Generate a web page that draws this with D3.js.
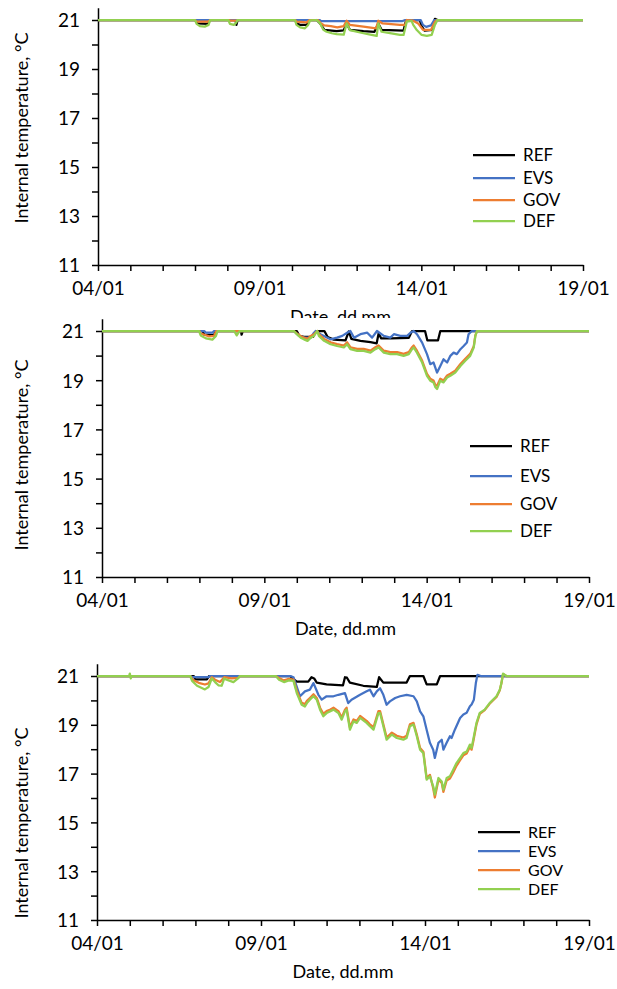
<!DOCTYPE html>
<html>
<head>
<meta charset="utf-8">
<script src="https://cdn.jsdelivr.net/npm/d3@7"></script>
<style>
  body { margin: 0; background: #fff; }
  svg { display: block; }
  text { font-family: Lato, "Open Sans", sans-serif; fill: #000; }
</style>
</head>
<body>
<svg id="chart" width="617" height="989"></svg>
<script>
// axis labels
const dayTicks = [0, 5, 10, 15]
const dayLabels = ["04/01", "09/01", "14/01", "19/01"]
const tempLabels = [11, 13, 15, 17, 19, 21]
const seriesNames = ["REF", "EVS", "GOV", "DEF"]

// series, [days after 04/01, internal temperature °C]
// top chart
const ref1 = [[0,21],[3.0,21],[3.08,20.86],[3.4,20.84],[3.47,21],[4.25,21],[4.28,20.8],[4.32,21],
  [6.1,21],[6.14,20.86],[6.25,20.8],[6.45,20.8],[6.55,21],[6.76,21],[6.87,20.86],[7.0,20.6],[7.38,20.55],
  [7.6,20.58],[7.69,20.86],[7.79,20.6],[8.21,20.55],[8.55,20.52],[8.67,20.86],[8.77,20.6],[9.45,20.57],
  [9.53,21],[9.95,21],[10.01,20.75],[10.1,20.57],[10.35,20.6],[10.42,21.05],[10.5,21],[15,21]]
const evs1 = [[0,21],[6.85,21],[6.9,20.95],[9.4,20.95],[9.5,21],[9.98,21],[10.05,20.8],[10.15,20.72],
  [10.3,20.78],[10.4,21],[15,21]]
const gov1 = [[0,21],[3.0,21],[3.05,20.93],[3.4,20.93],[3.48,21],[4.05,21],[4.1,20.97],[4.3,20.97],[4.35,21],
  [6.1,21],[6.14,20.93],[6.45,20.9],[6.55,21],[6.8,21],[6.9,20.86],[7.0,20.78],[7.2,20.75],[7.4,20.7],
  [7.6,20.75],[7.69,20.97],[7.79,20.8],[8.21,20.73],[8.6,20.66],[8.67,20.97],[8.8,20.86],[9.34,20.8],
  [9.5,20.8],[9.55,21],[9.75,20.97],[9.9,20.86],[10.05,20.6],[10.3,20.6],[10.42,20.93],[10.5,21],[15,21]]
const def1 = [[0,21],[3.0,21],[3.05,20.84],[3.15,20.75],[3.3,20.73],[3.42,20.8],[3.47,21],[4.03,21],
  [4.08,20.84],[4.2,20.8],[4.28,20.9],[4.31,21],[6.09,21],[6.14,20.8],[6.25,20.7],[6.4,20.66],[6.5,20.8],
  [6.56,20.98],[6.76,21],[6.87,20.86],[6.97,20.6],[7.07,20.52],[7.23,20.46],[7.38,20.42],[7.6,20.4],
  [7.69,20.86],[7.79,20.59],[8.21,20.46],[8.46,20.39],[8.62,20.35],[8.67,20.86],[8.77,20.52],[9.03,20.46],
  [9.34,20.39],[9.45,20.39],[9.55,20.93],[9.7,20.96],[9.75,20.8],[9.86,20.59],[10.01,20.39],[10.17,20.35],
  [10.32,20.39],[10.42,20.8],[10.5,21],[15,21]]

// middle chart
const ref2 = [[0,21],[3.1,21],[3.15,20.85],[3.45,20.83],[3.5,21],[4.28,21],[4.3,20.85],[4.34,21],
  [6.0,21],[6.08,20.8],[6.22,20.76],[6.5,20.76],[6.6,21],[6.85,21],[6.95,20.75],[7.14,20.65],[7.5,20.62],
  [7.6,20.98],[7.68,20.68],[7.96,20.6],[8.27,20.55],[8.46,20.5],[8.52,20.9],[8.6,20.7],[8.9,20.7],
  [9.45,20.72],[9.55,21],[9.95,21],[10.02,20.62],[10.35,20.62],[10.42,21],[15,21]]
const evs2 = [[0,21],[3.15,21],[3.2,20.93],[3.4,20.93],[3.45,21],[5.91,21],[6.07,20.8],[6.22,20.73],
  [6.43,20.73],[6.53,20.93],[6.58,21],[6.73,20.87],[6.94,20.73],[7.04,20.66],[7.24,20.73],[7.40,20.8],
  [7.55,20.93],[7.65,21],[7.76,20.73],[7.96,20.87],[8.17,20.93],[8.32,20.73],[8.47,21],[8.68,20.8],
  [8.88,20.73],[8.99,20.87],[9.19,20.8],[9.40,20.8],[9.50,20.93],[9.60,21],[9.70,20.87],[9.86,20.53],
  [10.01,20.06],[10.11,19.65],[10.21,19.72],[10.32,19.31],[10.42,19.58],[10.52,19.85],[10.63,19.72],
  [10.73,19.99],[10.83,20.12],[10.93,20.06],[11.04,20.26],[11.14,20.39],[11.24,20.53],[11.29,20.87],
  [11.39,21],[15,21]]
const gov2 = [[0,21],[3.0,21],[3.04,20.9],[3.3,20.78],[3.45,20.8],[3.52,21],[5.91,21],[6.0,20.9],
  [6.12,20.8],[6.22,20.73],[6.33,20.68],[6.43,20.8],[6.53,20.87],[6.63,21],[6.68,20.87],[6.84,20.68],
  [7.04,20.54],[7.24,20.47],[7.45,20.41],[7.55,20.54],[7.65,20.34],[7.86,20.27],[8.06,20.27],[8.27,20.2],
  [8.42,20.34],[8.52,20.41],[8.68,20.2],[8.88,20.14],[9.09,20.14],[9.29,20.07],[9.45,20.14],[9.55,20.34],
  [9.60,20.41],[9.70,20.2],[9.86,19.8],[10.01,19.26],[10.11,19.06],[10.21,18.99],[10.27,18.8],
  [10.32,18.78],[10.42,19.06],[10.52,18.99],[10.63,19.19],[10.73,19.26],[10.88,19.39],[11.04,19.66],
  [11.19,19.87],[11.34,20.07],[11.45,20.38],[11.5,20.82],[11.55,21],[15,21]]
const def2 = [[0,21],[2.99,21],[3.04,20.82],[3.2,20.7],[3.4,20.65],[3.51,20.8],[3.56,21],[4.07,21],
  [4.15,20.82],[4.22,20.96],[4.26,21],[5.91,21],[6.0,20.87],[6.12,20.73],[6.22,20.66],[6.33,20.6],
  [6.43,20.73],[6.53,20.8],[6.63,21],[6.68,20.8],[6.84,20.6],[7.04,20.46],[7.24,20.39],[7.45,20.33],
  [7.55,20.46],[7.65,20.26],[7.86,20.19],[8.06,20.19],[8.27,20.12],[8.42,20.26],[8.52,20.33],[8.68,20.12],
  [8.88,20.06],[9.09,20.06],[9.29,19.99],[9.45,20.06],[9.55,20.26],[9.60,20.33],[9.70,20.12],[9.86,19.72],
  [10.01,19.18],[10.11,18.98],[10.21,18.91],[10.27,18.71],[10.32,18.64],[10.42,18.98],[10.52,18.91],
  [10.63,19.11],[10.73,19.18],[10.88,19.31],[11.04,19.58],[11.19,19.79],[11.34,19.99],[11.45,20.33],
  [11.5,20.8],[11.55,21],[15,21]]

// bottom chart
const ref3 = [[0,21],[2.95,21],[3.0,20.86],[3.35,20.86],[3.42,21],[5.88,21],[6.09,20.77],[6.44,20.77],
  [6.54,20.95],[6.62,20.9],[6.7,20.73],[7.0,20.66],[7.5,20.62],[7.56,20.95],[7.62,20.93],[7.71,20.73],
  [8.12,20.6],[8.53,20.55],[8.6,20.95],[8.73,20.73],[9.44,20.73],[9.54,21],[9.95,21],[10.05,20.66],
  [10.36,20.66],[10.46,21],[15,21]]
const evs3 = [[0,21],[2.84,21],[2.9,20.95],[3.4,20.95],[3.45,21],[5.9,21],[5.99,20.95],[6.19,20.17],
  [6.34,20.37],[6.49,20.44],[6.60,20.71],[6.75,20.23],[6.85,20.03],[7.00,20.17],[7.21,20.17],[7.36,20.23],
  [7.56,20.30],[7.66,19.89],[7.76,20.03],[8.02,20.23],[8.22,20.37],[8.32,20.44],[8.43,20.17],[8.53,20.37],
  [8.63,20.50],[8.73,20.23],[8.83,19.82],[8.93,19.96],[9.09,20.10],[9.24,20.17],[9.44,20.23],[9.65,20.17],
  [9.75,19.96],[9.85,19.55],[9.95,19.35],[10.05,18.80],[10.15,18.26],[10.25,17.98],[10.30,17.64],
  [10.41,18.26],[10.51,18.39],[10.56,17.98],[10.66,18.26],[10.76,18.53],[10.81,18.46],[10.91,18.80],
  [11.07,19.28],[11.17,19.42],[11.27,19.49],[11.37,19.76],[11.42,19.83],[11.49,20.03],[11.55,20.71],
  [11.60,21.05],[11.7,21],[15,21]]
const gov3 = [[0,21],[2.84,21],[2.92,20.85],[3.1,20.72],[3.29,20.65],[3.4,20.7],[3.5,20.95],[3.6,20.85],
  [3.75,20.75],[3.88,20.95],[4.1,20.9],[4.3,20.92],[4.36,21],[5.45,21],[5.55,20.92],[5.7,20.82],
  [5.85,20.88],[5.99,20.85],[6.09,20.4],[6.24,19.9],[6.34,19.85],[6.4,19.98],[6.49,20.1],[6.60,20.25],
  [6.70,20.1],[6.80,19.7],[6.90,19.45],[7.0,19.56],[7.1,19.62],[7.21,19.7],[7.36,19.56],[7.46,19.3],
  [7.56,19.62],[7.61,19.7],[7.71,18.9],[7.82,19.22],[7.92,19.16],[8.02,19.36],[8.22,19.16],[8.32,19.02],
  [8.43,18.9],[8.58,19.56],[8.63,19.56],[8.73,19.02],[8.83,18.48],[8.99,18.68],[9.14,18.55],[9.34,18.48],
  [9.44,18.55],[9.54,19.02],[9.65,19.08],[9.75,18.6],[9.85,18.05],[9.95,17.9],[10.05,16.82],[10.15,16.95],
  [10.25,16.4],[10.30,16.02],[10.41,16.75],[10.51,16.62],[10.56,16.25],[10.66,16.72],[10.76,16.8],
  [10.86,17.05],[10.96,17.32],[11.07,17.55],[11.17,17.75],[11.27,17.82],[11.37,18.1],[11.42,17.98],
  [11.47,18.3],[11.57,19.02],[11.67,19.45],[11.82,19.6],[11.97,19.86],[12.18,20.14],[12.28,20.42],
  [12.33,20.7],[12.38,21.08],[12.48,21],[15,21]]
const def3 = [[0,21],[0.98,21],[1.0,21.1],[1.03,20.9],[1.06,21],[2.84,21],[2.9,20.8],[3.05,20.6],
  [3.29,20.45],[3.4,20.55],[3.5,20.9],[3.6,20.75],[3.7,20.62],[3.8,20.6],[3.88,20.9],[3.95,20.85],
  [4.16,20.75],[4.3,20.9],[4.36,21],[5.45,21],[5.55,20.85],[5.7,20.75],[5.85,20.82],[5.99,20.8],
  [6.09,20.30],[6.24,19.82],[6.34,19.75],[6.4,19.89],[6.49,20.03],[6.60,20.17],[6.70,20.03],[6.80,19.62],
  [6.90,19.35],[7.0,19.48],[7.1,19.55],[7.21,19.62],[7.36,19.48],[7.46,19.21],[7.56,19.55],[7.61,19.62],
  [7.71,18.80],[7.82,19.14],[7.92,19.08],[8.02,19.28],[8.22,19.08],[8.32,18.94],[8.43,18.80],[8.58,19.48],
  [8.63,19.48],[8.73,18.94],[8.83,18.39],[8.99,18.60],[9.14,18.46],[9.34,18.39],[9.44,18.46],[9.54,18.94],
  [9.65,19.01],[9.75,18.53],[9.85,17.98],[9.95,17.84],[10.05,16.75],[10.15,16.89],[10.25,16.48],
  [10.30,16.14],[10.41,16.82],[10.51,16.68],[10.56,16.34],[10.66,16.82],[10.76,16.89],[10.86,17.16],
  [10.96,17.43],[11.07,17.64],[11.17,17.84],[11.27,17.9],[11.37,18.19],[11.42,18.05],[11.47,18.39],
  [11.57,19.08],[11.67,19.49],[11.82,19.62],[11.97,19.89],[12.18,20.17],[12.28,20.44],[12.33,20.71],
  [12.38,21.1],[12.48,21],[15,21]]

// colours and layout
const colors = ["#000000", "#4472C4", "#ED7D31", "#92D050"]
const panels = [
  {series: [ref1, evs1, gov1, def1], bgTop: 0, xL: 98, xR: 583, y21: 20, y11: 265,
   legX: 473, legY: [155, 178, 200, 221], legFont: 17, titleY: 128},
  {series: [ref2, evs2, gov2, def2], bgTop: 318, xL: 102, xR: 589, y21: 331, y11: 577,
   legX: 470, legY: [446, 476, 504, 531], legFont: 17, titleY: 455},
  {series: [ref3, evs3, gov3, def3], bgTop: 652, xL: 97, xR: 589, y21: 676, y11: 920,
   legX: 478, legY: [832, 851, 870, 889], legFont: 16, titleY: 823}
]

let svg = d3.select('#chart')

panels.forEach(function(p, k){
  let g = svg.append('g')
  // white card of each chart, it hides the lower part of the chart above
  g.append('rect')
    .attr('x', 0).attr('y', p.bgTop)
    .attr('width', 617).attr('height', 989 - p.bgTop)
    .attr('fill', '#fff')

  let unit = (p.y11 - p.y21) / 10
  let x = d3.scaleLinear().domain([0, 15]).range([p.xL, p.xR])
  let y = d3.scaleLinear().domain([11, 21.5]).range([p.y11, p.y21 - unit * 0.5])

  let yAxis = d3.axisLeft(y)
    .tickValues(d3.range(11, 22))
    .tickSize(6).tickSizeOuter(0).tickPadding(12)
    .tickFormat(d => tempLabels.includes(d) ? d : "")
  let xAxis = d3.axisBottom(x)
    .tickValues(d3.range(0, 16))
    .tickSize(6).tickSizeOuter(0).tickPadding(6)
    .tickFormat(d => dayTicks.includes(d) ? dayLabels[dayTicks.indexOf(d)] : "")

  let ya = g.append('g').attr('transform', 'translate(' + p.xL + ',0)').call(yAxis)
  let xa = g.append('g').attr('transform', 'translate(0,' + p.y11 + ')').call(xAxis)
  ;[ya, xa].forEach(function(a){
    a.selectAll('path, line').attr('stroke', '#000').attr('stroke-width', 1.5)
    a.selectAll('text').attr('font-size', 19).attr('font-family', 'Lato, sans-serif').attr('fill', '#000')
  })
  ya.selectAll('text').attr('dy', '0.36em')
  xa.selectAll('text').attr('dy', '0.95em')

  // lines
  let line = d3.line()
    .x(d => x(d[0]))
    .y(d => y(d[1]))
  p.series.forEach(function(s, i){
    g.append('path')
      .datum(s)
      .attr('d', line)
      .attr('fill', 'none')
      .attr('stroke', colors[i])
      .attr('stroke-width', 2.25)
      .attr('stroke-linejoin', 'round')
  })

  // legend
  seriesNames.forEach(function(name, i){
    g.append('line')
      .attr('x1', p.legX).attr('x2', p.legX + 42)
      .attr('y1', p.legY[i]).attr('y2', p.legY[i])
      .attr('stroke', colors[i]).attr('stroke-width', 2.25)
    g.append('text')
      .attr('x', p.legX + 50).attr('y', p.legY[i])
      .attr('dy', '0.35em')
      .attr('font-size', p.legFont)
      .text(name)
  })

  // axis titles
  g.append('text')
    .attr('transform', 'translate(22,' + p.titleY + ') rotate(-90)')
    .attr('text-anchor', 'middle')
    .attr('dy', '0.35em')
    .attr('font-size', 18)
    .text('Internal temperature, °C')
  g.append('text')
    .attr('x', (p.xL + p.xR) / 2)
    .attr('y', p.y11 + 52)
    .attr('text-anchor', 'middle')
    .attr('dy', '0.35em')
    .attr('font-size', 18)
    .text('Date, dd.mm')
})
</script>
</body>
</html>
